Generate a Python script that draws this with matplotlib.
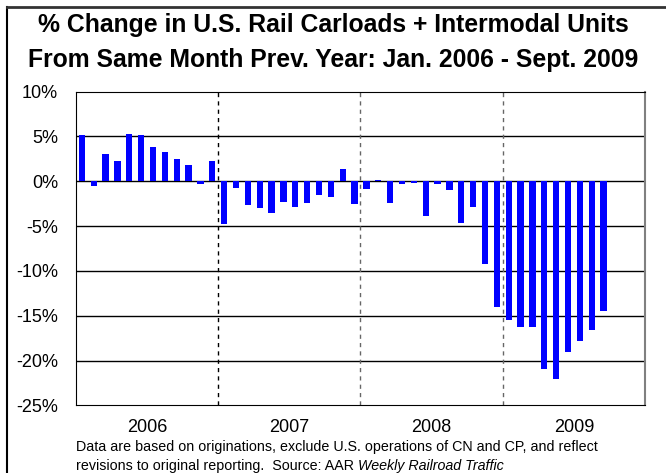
import matplotlib
matplotlib.use("Agg")
import matplotlib.pyplot as plt
from matplotlib.lines import Line2D
import numpy as np

plt.rcParams['font.family'] = ['Liberation Sans', 'DejaVu Sans']

# monthly % change, Jan 2006 - Sept 2009
chg_2006 = [5.15, -0.5, 3.1, 2.25, 5.3, 5.15, 3.8, 3.3, 2.45, 1.85, -0.3, 2.25]
chg_2007 = [-4.8, -0.75, -2.6, -3.0, -3.55, -2.35, -2.9, -2.4, -1.55, -1.8, 1.35, -2.55]
chg_2008 = [-0.9, 0.2, -2.45, -0.35, -0.2, -3.85, -0.35, -1.0, -4.65, -2.85, -9.2, -14.0]
chg_2009 = [-15.5, -16.3, -16.3, -21.0, -22.05, -19.1, -17.85, -16.6, -14.45]
years = ['2006', '2007', '2008', '2009']
yticks = [10, 5, 0, -5, -10, -15, -20, -25]

values = chg_2006 + chg_2007 + chg_2008 + chg_2009
x = np.arange(len(values))

fig = plt.figure(figsize=(6.66, 4.73), dpi=100)
ax = fig.add_axes([76/666, 1 - 405.3/473, (645 - 76)/666, (405.3 - 91.7)/473])

for yv in yticks[1:-1]:
    ax.axhline(yv, color='black', lw=1, zorder=1)
ax.bar(x, values, width=0.53, color='#0000ff', zorder=3)

# year separators
for i, b in enumerate([11.5, 23.5, 35.5]):
    ax.axvline(b, color='black' if i == 0 else '#666666', lw=1,
               linestyle=(0, (3, 3)), zorder=2)

ax.set_xlim(-0.5, 47.5)
ax.set_ylim(-25, 10)
ax.set_yticks(yticks)
ax.set_yticklabels(['%d%%' % v for v in yticks], fontsize=13)
ax.tick_params(axis='y', length=0, pad=13)
ax.set_xticks([5.5, 17.5, 29.5, 41.5])
ax.set_xticklabels(years, fontsize=13)
ax.tick_params(axis='x', length=0, pad=10)
for s in ['left', 'bottom', 'top']:
    ax.spines[s].set_color('black')
ax.spines['right'].set_color('#808080')
ax.spines['right'].set_linewidth(1.5)

fig.text(0.5, 1 - 25/473, '% Change in U.S. Rail Carloads + Intermodal Units',
         ha='center', va='center', fontsize=17.8, fontweight='bold')
fig.text(0.5, 1 - 60/473, 'From Same Month Prev. Year: Jan. 2006 - Sept. 2009',
         ha='center', va='center', fontsize=17.8, fontweight='bold')

fig.text(76/666, 1 - 447/473,
         'Data are based on originations, exclude U.S. operations of CN and CP, and reflect',
         ha='left', va='center', fontsize=10.3)
t2 = fig.text(76/666, 1 - 472.5/473, 'revisions to original reporting.  Source: AAR ',
              ha='left', va='bottom', fontsize=10.3)
ax.annotate('Weekly Railroad Traffic', xy=(1, 0), xycoords=t2, ha='left', va='bottom',
            fontsize=10.3, style='italic', annotation_clip=False)

# outer frame (only left and top edges are visible)
fig.add_artist(Line2D([7/666, 7/666], [0, 1 - 7/473], transform=fig.transFigure,
                      color='black', lw=1.5))
fig.add_artist(Line2D([7/666, 1], [1 - 7/473, 1 - 7/473], transform=fig.transFigure,
                      color='#333333', lw=2))

fig.savefig('out.png', dpi=100)
